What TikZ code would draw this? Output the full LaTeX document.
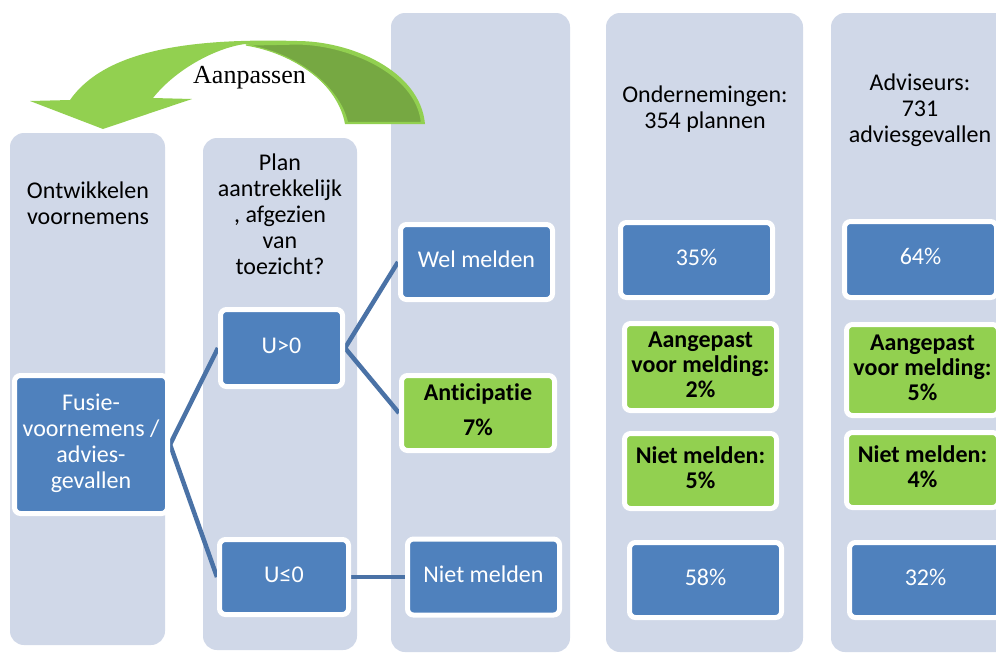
\documentclass[tikz,border=0pt]{standalone}
\usepackage{fontspec}
\setmainfont{Carlito}[Ligatures=NoCommon]
\newfontfamily\serifface{Liberation Serif}

\pgfdeclarelayer{colbg}
\pgfdeclarelayer{links}
\pgfsetlayers{colbg,links,main}

\definecolor{colfill}{HTML}{D0D8E8}
\definecolor{boxblue}{HTML}{4F81BD}
\definecolor{boxgreen}{HTML}{92D050}
\definecolor{linkblue}{HTML}{4A72A6}
\definecolor{arrowdark}{HTML}{76A842}

\begin{document}
\begin{tikzpicture}[x=1pt,y=-1pt,
  colstrip/.style={fill=colfill, rounded corners=14pt},
  boxbase/.style={draw=white, line width=5pt, rounded corners=6pt, inner sep=0pt, align=center},
  bluebox/.style={boxbase, fill=boxblue, text=white, font=\fontsize{24}{26}\selectfont},
  greenbox/.style={boxbase, fill=boxgreen, text=black, font=\bfseries\fontsize{24}{25}\selectfont},
  headtext/.style={align=center, inner sep=0pt, font=\fontsize{24}{26}\selectfont},
  link/.style={draw=linkblue, line width=4.5pt}
]
\useasboundingbox (0,0) rectangle (996,653);

% background strips for the five stages
\begin{pgfonlayer}{colbg}
  \fill[white] (0,0) rectangle (996,653);
  \fill[colstrip] (10,133) rectangle (165,645);
  \fill[colstrip] (203,138) rectangle (357,650);
  \fill[colstrip] (391,13) rectangle (570,652);
  \fill[colstrip] (606,13) rectangle (803,652);
  \fill[colstrip] (831,13) rectangle (1030,652);
\end{pgfonlayer}

% curved "Aanpassen" arrow
\fill[boxgreen] (425,124) .. controls (420,70) and (350,41) .. (297,41)
  .. controls (190,38) and (105,50) .. (70,100)
  -- (30,101) -- (103,129) -- (192,99) -- (153,98)
  .. controls (175,70) and (215,48) .. (245,44)
  .. controls (295,52) and (338,85) .. (345,124) -- cycle;
\filldraw[fill=arrowdark, draw=boxgreen, line width=1.2pt]
  (246,45) -- (297,44) .. controls (345,44) and (416,72) .. (421.5,122.5)
  -- (347.5,122.5) .. controls (339,86) and (296,53) .. (246,45) -- cycle;
\node[anchor=base west, inner sep=0pt, font=\serifface\fontsize{26}{30}\selectfont] (adj) at (193,83) {Aanpassen};

% column headings
\node[headtext] (h1) at (88,206) {\strut Ontwikkelen\\\strut voornemens};
\node[headtext] (h2) at (280,217) {\strut Plan\\\strut aantrekkelijk\\\strut , afgezien\\\strut van\\\strut toezicht?};
\node[headtext] (h3) at (705,110.5) {\strut Ondernemingen:\\\strut 354 plannen};
\node[headtext] (h4) at (920,111) {\strut Adviseurs:\\\strut 731\\\strut adviesgevallen};

% decision tree
\node[bluebox, minimum width=153pt, minimum height=138pt] (fusie) at (91,444.5)
  {\strut Fusie-\\\strut voornemens /\\\strut advies-\\\strut gevallen};
\node[bluebox, minimum width=122pt, minimum height=77pt] (u1) at (281.5,348) {\strut U>0};
\node[bluebox, minimum width=129pt, minimum height=75pt] (u2) at (284,577) {\strut U≤0};
\node[bluebox, minimum width=152pt, minimum height=75pt] (wel) at (476.5,262) {\strut Wel melden};
\node[greenbox, minimum width=153pt, minimum height=75pt] (anti) at (478,413) {\strut Anticipatie\\[10pt]\strut 7\%};
\node[bluebox, minimum width=152pt, minimum height=76pt] (niet) at (483.5,577) {\strut Niet melden};

% companies
\node[bluebox, minimum width=152pt, minimum height=75pt] (c4a) at (696.5,260) {\strut 35\%};
\node[greenbox, minimum width=152pt, minimum height=87pt] (c4b) at (700.5,367) {\strut Aangepast\\\strut voor melding:\\\strut 2\%};
\node[greenbox, minimum width=152pt, minimum height=75pt] (c4c) at (700.5,471) {\strut Niet melden:\\\strut 5\%};
\node[bluebox, minimum width=152pt, minimum height=75pt] (c4d) at (705.5,580) {\strut 58\%};

% advisers
\node[bluebox, minimum width=152pt, minimum height=76pt] (c5a) at (920.5,259.5) {\strut 64\%};
\node[greenbox, minimum width=152pt, minimum height=91pt] (c5b) at (922.5,370) {\strut Aangepast\\\strut voor melding:\\\strut 5\%};
\node[greenbox, minimum width=152pt, minimum height=75pt] (c5c) at (922.5,470) {\strut Niet melden:\\\strut 4\%};
\node[bluebox, minimum width=152pt, minimum height=75pt] (c5d) at (925.5,580) {\strut 32\%};

% connectors
\begin{pgfonlayer}{links}
  \draw[link] (fusie.east) -- (u1.west);
  \draw[link] (fusie.east) -- (u2.west);
  \draw[link] (u1.east) -- (wel.west);
  \draw[link] (u1.east) -- (anti.west);
  \draw[link] (u2.east) -- (niet.west);
\end{pgfonlayer}
\end{tikzpicture}
\end{document}
